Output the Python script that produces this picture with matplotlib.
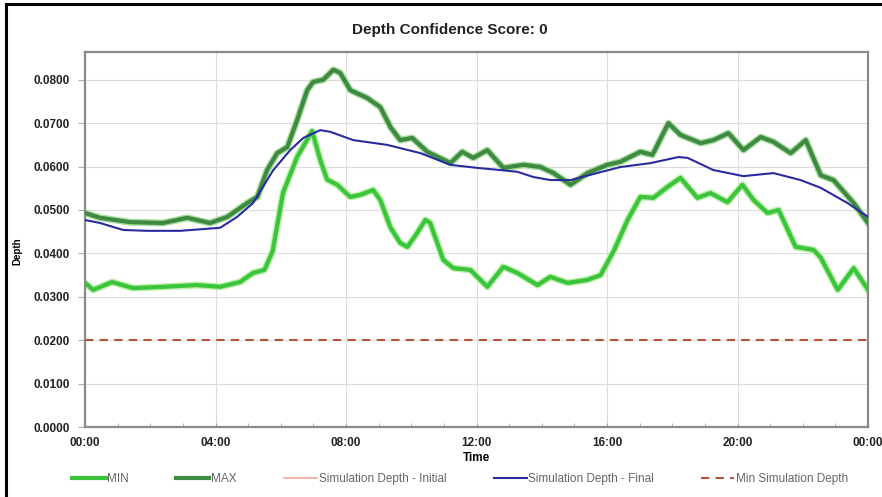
import matplotlib
matplotlib.use('Agg')
import matplotlib.pyplot as plt
from matplotlib.patches import Rectangle
from matplotlib.ticker import FuncFormatter, MultipleLocator

plt.rcParams['font.family'] = ['Liberation Sans', 'DejaVu Sans']

# time in hours since 00:00
min_t = [0.0, 0.25, 0.83, 1.47, 2.39, 3.44, 4.14, 4.75, 5.15, 5.5, 5.75, 6.07, 6.5, 6.96,
         7.21, 7.42, 7.73, 8.13, 8.44, 8.83, 9.05, 9.36, 9.66, 9.88, 10.18, 10.43, 10.58,
         10.98, 11.29, 11.81, 12.33, 12.82, 13.25, 13.87, 14.26, 14.79, 15.4, 15.8, 16.2,
         16.63, 17.02, 17.42, 17.85, 18.25, 18.77, 19.17, 19.69, 20.15, 20.49, 20.92,
         21.26, 21.78, 22.33, 22.55, 23.07, 23.56, 24.0]
min_v = [0.0332, 0.0316, 0.0334, 0.0320, 0.0323, 0.0327, 0.0323, 0.0334, 0.0355, 0.0362,
         0.0405, 0.0540, 0.0622, 0.0682, 0.0615, 0.0570, 0.0558, 0.0530, 0.0535, 0.0546,
         0.0523, 0.0460, 0.0424, 0.0415, 0.0447, 0.0477, 0.0470, 0.0385, 0.0366, 0.0362,
         0.0323, 0.0369, 0.0355, 0.0327, 0.0346, 0.0332, 0.0339, 0.0350, 0.0405, 0.0477,
         0.0530, 0.0528, 0.0553, 0.0574, 0.0528, 0.0539, 0.0518, 0.0558, 0.0523, 0.0493,
         0.0500, 0.0415, 0.0408, 0.0390, 0.0316, 0.0366, 0.0316]

max_t = [0.0, 0.46, 1.38, 2.39, 3.13, 3.83, 4.36, 4.97, 5.28, 5.58, 5.89, 6.2, 6.5, 6.81,
         6.99, 7.3, 7.61, 7.82, 8.13, 8.65, 9.05, 9.36, 9.66, 10.03, 10.49, 11.2, 11.56,
         11.9, 12.33, 12.82, 13.44, 13.96, 14.36, 14.88, 15.4, 16.01, 16.41, 17.02, 17.39,
         17.88, 18.25, 18.87, 19.26, 19.72, 20.18, 20.71, 21.1, 21.63, 22.09, 22.55, 22.94,
         23.56, 24.0]
max_v = [0.0493, 0.0482, 0.0472, 0.0470, 0.0482, 0.0470, 0.0484, 0.0516, 0.0530, 0.0592,
         0.0631, 0.0645, 0.0707, 0.0776, 0.0795, 0.0800, 0.0823, 0.0816, 0.0776, 0.0758,
         0.0737, 0.0691, 0.0661, 0.0666, 0.0634, 0.0608, 0.0634, 0.0620, 0.0638, 0.0597,
         0.0604, 0.0599, 0.0585, 0.0558, 0.0585, 0.0604, 0.0611, 0.0634, 0.0627, 0.0700,
         0.0673, 0.0654, 0.0661, 0.0677, 0.0638, 0.0668, 0.0657, 0.0631, 0.0661, 0.0580,
         0.0569, 0.0516, 0.0470]

final_t = [0.0, 0.46, 1.17, 1.9, 2.91, 4.14, 4.66, 5.15, 5.77, 6.29, 6.69, 7.21, 7.52, 8.22,
           9.26, 10.28, 11.2, 12.02, 12.73, 13.25, 13.74, 14.26, 14.88, 15.49, 16.41, 17.33,
           18.19, 18.47, 19.26, 20.18, 21.1, 21.93, 22.55, 23.37, 24.0]
final_v = [0.0477, 0.0470, 0.0454, 0.0452, 0.0452, 0.0459, 0.0484, 0.0516, 0.0592, 0.0638,
           0.0666, 0.0684, 0.0680, 0.0661, 0.0650, 0.0631, 0.0604, 0.0597, 0.0592, 0.0588,
           0.0576, 0.0569, 0.0569, 0.0581, 0.0599, 0.0608, 0.0622, 0.0620, 0.0592, 0.0578,
           0.0585, 0.0569, 0.0551, 0.0516, 0.0484]

initial_t = []
initial_v = []

min_sim_t = [0.0, 24.0]
min_sim_v = [0.0200, 0.0200]

x_ticks = [0, 4, 8, 12, 16, 20, 24]
x_labels = ['00:00', '04:00', '08:00', '12:00', '16:00', '20:00', '00:00']


fig = plt.figure(figsize=(8.82, 4.97), dpi=100)
ax = fig.add_axes([0.0964, 0.1408, 0.8878, 0.7546])

# glow under the green lines
ax.plot(min_t, min_v, color='#b8f0a8', lw=5.0, solid_joinstyle='round', zorder=2)
ax.plot(max_t, max_v, color='#a8dca0', lw=5.0, solid_joinstyle='round', zorder=2)
ax.plot(min_t, min_v, color='#3cc43c', lw=3.0, solid_joinstyle='round', zorder=3, label='MIN')
ax.plot(max_t, max_v, color='#3d8a40', lw=3.0, solid_joinstyle='round', zorder=3, label='MAX')
ax.plot(initial_t, initial_v, color='#f0a898', lw=1.2, label='Simulation Depth - Initial')
ax.plot(final_t, final_v, color='#2b2ba0', lw=1.5, solid_joinstyle='round', zorder=4,
        label='Simulation Depth - Final')
ax.plot(min_sim_t, min_sim_v, color='#b5543c', lw=1.5, ls=(0, (4, 3)), zorder=3,
        label='Min Simulation Depth')

ax.set_xlim(0, 24)
ax.set_ylim(0, 0.0864)
ax.set_xticks(x_ticks)
ax.set_xticklabels(x_labels)
ax.xaxis.set_minor_locator(MultipleLocator(1))
ax.yaxis.set_major_locator(MultipleLocator(0.01))
ax.yaxis.set_major_formatter(FuncFormatter(lambda v, p: '{:.4f}'.format(v)))

ax.grid(True, color='#dcdcdc', lw=0.8, zorder=0)
ax.set_axisbelow(True)
for s in ax.spines.values():
    s.set_color('#8a8a8a')
    s.set_linewidth(1.6)

ax.tick_params(axis='y', direction='out', length=5, color='#b0b0b0', labelsize=8.5,
               pad=6)
ax.tick_params(axis='x', which='both', direction='in', length=3, color='#a0a0a0',
               labelsize=8.5, pad=7)
for lab in ax.get_xticklabels() + ax.get_yticklabels():
    lab.set_fontweight('bold')
    lab.set_color('#222222')

ax.set_xlabel('Time', fontsize=8.5, fontweight='bold', labelpad=2)
ax.set_ylabel('Depth', fontsize=7, fontweight='bold', labelpad=8)
ax.yaxis.set_label_coords(-0.08, 0.47)
fig.text(0.51, 0.94, 'Depth Confidence Score: 0', ha='center', va='center',
         fontsize=11, fontweight='bold', color='#222222')

leg = fig.legend(loc='lower center', bbox_to_anchor=(0.522, 0.003), ncol=5,
                 frameon=False, fontsize=8.5, handlelength=2.8, handletextpad=0.15,
                 columnspacing=4.0)
for t in leg.get_texts():
    t.set_color('#666666')

# outer black frame (left and top edges visible)
fig.patches.append(Rectangle((0.007, -0.05), 1.1, 1.042, transform=fig.transFigure,
                             fill=False, edgecolor='black', lw=2.2))

fig.savefig('out.png', dpi=100)
